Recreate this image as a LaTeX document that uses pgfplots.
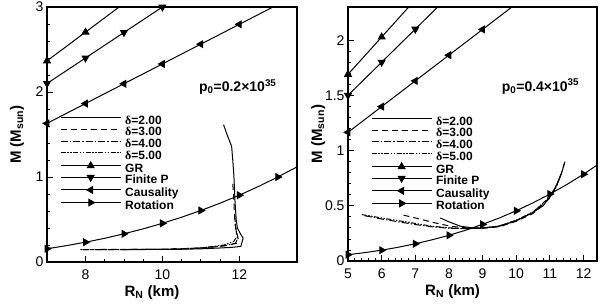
\documentclass[border=0pt]{standalone}
\usepackage{pgfplots}
\pgfplotsset{compat=1.18}
\usepackage{fontspec}
\setmainfont{Liberation Sans}
\newfontfamily\grk{Liberation Serif}

\pgfplotsset{
 mystyle/.style={
  scale only axis,
  axis line style={line width=1.1pt},
  tick pos=left, tick align=inside,
  major tick length=6pt, minor tick length=3pt,
  every tick/.style={line width=0.8pt, black},
  /pgf/number format/assume math mode=true,
  tick label style={font=\fontsize{14}{14}\selectfont},
  xticklabel style={yshift=-4pt},
  label style={font=\fontsize{15}{15}\selectfont\bfseries},
  xlabel={R\textsubscript{N} (km)},
  ylabel={M (M\textsubscript{sun})},
  xlabel style={at={(axis description cs:0.42,-0.135)}, anchor=base},
  ylabel style={at={(axis description cs:-0.12,0.5)}, anchor=center},
  legend style={draw=none, fill=none, anchor=north west,
    font=\fontsize{12}{12}\selectfont\bfseries, row sep=0pt, inner sep=0pt,
    nodes={inner sep=0pt, text height=8.8pt, text depth=2.8pt}},
  legend cell align=left,
  legend image code/.code={\draw[##1, mark indices={2}] plot coordinates {(0pt,3.5pt) (30pt,3.5pt) (60pt,3.5pt)}; \path (64pt,0pt);},
 },
 dA/.style={line width=1pt},
 dB/.style={line width=1pt, dash pattern=on 6pt off 4pt},
 dC/.style={line width=1pt, dash pattern=on 7pt off 2pt on 1.5pt off 2pt},
 dD/.style={line width=1pt, dash pattern=on 5pt off 1.5pt on 1.5pt off 1.5pt on 1.5pt off 1.5pt},
 lim/.style={line width=1pt, mark=triangle*, mark size=3.8pt},
}

\begin{document}
\begin{tikzpicture}
% ---------------- left panel ----------------
\begin{axis}[mystyle, at={(0pt,0pt)}, anchor=south west,
  width=250pt, height=255pt,
  xmin=7, xmax=13.5, ymin=0, ymax=3,
  xtick={8,10,12}, ytick={0,1,2,3},
  minor x tick num=3, minor y tick num=4,
  legend style={at={(rel axis cs:0.052,0.575)}},
]
\addplot[dA] coordinates {(11.59,1.615) (11.68,1.50) (11.80,1.36) (11.83,1.2) (11.86,1.007) (11.89,0.694) (11.92,0.498) (11.95,0.40) (12.03,0.33) (12.10,0.282) (12.04,0.184) (11.8,0.172) (11.5,0.165) (11,0.155) (10.5,0.15) (10,0.148) (9.5,0.147) (9,0.147)};
\addlegendentry{{\grk δ}=2.00}
\addplot[dB] coordinates {(11.83,0.92) (11.85,0.8) (11.87,0.6) (11.89,0.45) (11.93,0.35) (11.97,0.28) (11.93,0.22) (11.6,0.19) (11.2,0.17) (10.5,0.155) (10,0.15) (9,0.148) (8.3,0.148)};
\addlegendentry{{\grk δ}=3.00}
\addplot[dC] coordinates {(11.88,0.55) (11.9,0.42) (11.93,0.33) (11.95,0.27) (11.9,0.22) (11.6,0.19) (11,0.165) (10,0.148) (9,0.147) (7.9,0.147)};
\addlegendentry{{\grk δ}=4.00}
\addplot[dD] coordinates {(11.91,0.28) (11.85,0.24) (11.6,0.2) (11,0.165) (10,0.148) (9,0.147) (7.85,0.147)};
\addlegendentry{{\grk δ}=5.00}
\addplot[lim, mark indices={1,2}] coordinates {(6.5,2.197) (7,2.366) (8,2.704) (9,3.042)};
\addlegendentry{GR}
\addplot[lim, mark options={rotate=180}, mark indices={1,2,3,4}] coordinates {(6.5,1.95) (7,2.1) (8,2.4) (9,2.7) (10,3.0) (11,3.3)};
\addlegendentry{Finite P}
\addplot[lim, mark options={rotate=90}, mark indices={1,2,3,4,5,6}] coordinates {(6.5,1.515) (7,1.631) (8,1.864) (9,2.097) (10,2.33) (11,2.563) (12,2.796) (13,3.029)};
\addlegendentry{Causality}
\addplot[lim, mark options={rotate=-90}, mark indices={1,3,5,7,9,11,13}] coordinates {(6.5,0.125) (7,0.156) (7.5,0.192) (8,0.233) (8.5,0.279) (9,0.332) (9.5,0.390) (10,0.455) (10.5,0.527) (11,0.606) (11.5,0.692) (12,0.786) (12.5,0.889) (13,1.0) (13.5,1.119) (14,1.249)};
\addlegendentry{Rotation}
\node[font=\fontsize{14}{14}\selectfont\bfseries] at (axis cs:11.96,2.06) {p\textsubscript{0}=0.2×10\textsuperscript{35}};
\end{axis}
% ---------------- right panel ----------------
\begin{axis}[mystyle, at={(301pt,1pt)}, anchor=south west,
  width=249pt, height=254pt,
  xmin=5, xmax=12.4, ymin=0, ymax=2.3,
  xtick={5,6,7,8,9,10,11,12}, ytick={0,0.5,1,1.5,2},
  minor x tick num=4, minor y tick num=4,
  legend style={at={(rel axis cs:0.092,0.57)}},
]
\addplot[dA] coordinates {(7.74,0.39) (8.0,0.355) (8.34,0.315) (8.7,0.3) (9.0,0.3) (9.5,0.315) (10,0.365) (10.5,0.44) (10.8,0.5) (11.0,0.58) (11.2,0.69) (11.35,0.8) (11.45,0.9)};
\addlegendentry{{\grk δ}=2.00}
\addplot[dB] coordinates {(6.65,0.415) (7,0.39) (7.59,0.345) (8.04,0.315) (8.5,0.3) (9,0.297) (9.5,0.31) (10,0.36) (10.5,0.43) (11,0.57) (11.2,0.68) (11.35,0.8) (11.42,0.88)};
\addlegendentry{{\grk δ}=3.00}
\addplot[dC] coordinates {(5.5,0.41) (6,0.38) (6.5,0.355) (7,0.33) (7.5,0.31) (8,0.297) (8.5,0.293) (9,0.297) (9.5,0.315) (10,0.365) (10.5,0.44) (11,0.575) (11.2,0.68) (11.35,0.8)};
\addlegendentry{{\grk δ}=4.00}
\addplot[dD] coordinates {(5.41,0.42) (6,0.39) (6.5,0.365) (7,0.34) (7.5,0.315) (8,0.3) (8.5,0.295) (9,0.297) (9.5,0.318) (10,0.37) (10.5,0.445) (11,0.58) (11.2,0.69) (11.3,0.76)};
\addlegendentry{{\grk δ}=5.00}
\addplot[lim, mark indices={1,2}] coordinates {(4.5,1.521) (5,1.69) (6,2.028) (7,2.366)};
\addlegendentry{GR}
\addplot[lim, mark options={rotate=180}, mark indices={1,2,3}] coordinates {(4.5,1.35) (5,1.5) (6,1.8) (7,2.1) (8,2.4)};
\addlegendentry{Finite P}
\addplot[lim, mark options={rotate=90}, mark indices={1,2,3,4,5}] coordinates {(4.5,1.049) (5,1.165) (6,1.398) (7,1.631) (8,1.864) (9,2.097) (10,2.33)};
\addlegendentry{Causality}
\addplot[lim, mark options={rotate=-90}, mark indices={1,3,5,7,9,11,13,15}] coordinates {(4.5,0.041) (5,0.057) (5.5,0.076) (6,0.098) (6.5,0.125) (7,0.156) (7.5,0.192) (8,0.233) (8.5,0.279) (9,0.332) (9.5,0.390) (10,0.455) (10.5,0.527) (11,0.606) (11.5,0.692) (12,0.786) (12.5,0.889)};
\addlegendentry{Rotation}
\node[font=\fontsize{14}{14}\selectfont\bfseries] at (axis cs:10.72,1.58) {p\textsubscript{0}=0.4×10\textsuperscript{35}};
\end{axis}
\pgfresetboundingbox
\path (-47pt,-44pt) rectangle (557pt,262pt);
\end{tikzpicture}
\end{document}
